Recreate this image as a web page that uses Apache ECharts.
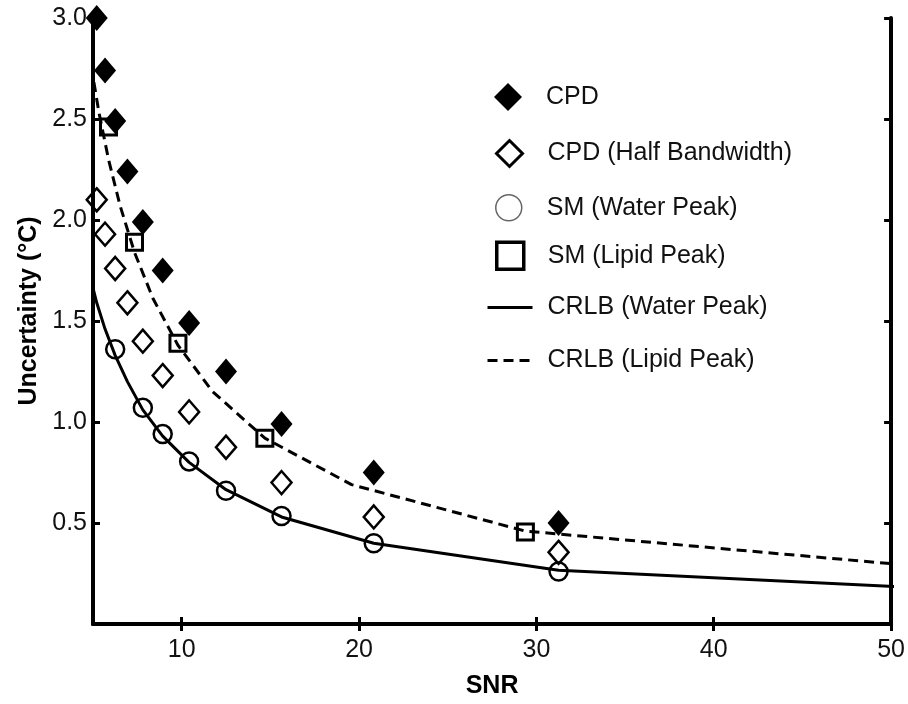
<!DOCTYPE html>
<html><head><meta charset="utf-8">
<script src="https://cdn.jsdelivr.net/npm/echarts@6/dist/echarts.min.js"></script>
<style>html,body{margin:0;padding:0;background:#fff}#c{width:908px;height:704px}</style>
</head><body><div id="c"></div>
<script>
// SNR positions and values
const snrCpd = [5.21, 5.68, 6.25, 6.94, 7.81, 8.93, 10.42, 12.5, 15.63, 20.83, 31.25];
const cpd = [3.0, 2.74, 2.49, 2.24, 1.99, 1.75, 1.49, 1.25, 0.99, 0.75, 0.50];
const cpdHalf = [2.1, 1.93, 1.76, 1.59, 1.40, 1.23, 1.05, 0.875, 0.70, 0.53, 0.355];
const smWaterSnr = [6.25, 7.81, 8.93, 10.42, 12.5, 15.63, 20.83, 31.25];
const smWater = [1.36, 1.07, 0.94, 0.805, 0.66, 0.535, 0.40, 0.26];
const smLipidSnr = [5.875, 7.34, 9.79, 14.69, 29.38];
const smLipid = [2.46, 1.89, 1.39, 0.92, 0.455];
const crlbWaterSnr = [4.81, 5.21, 5.68, 6.25, 6.94, 7.81, 8.93, 10.42, 12.5, 15.63, 20.83, 31.25, 62.5];
const crlbWater = [1.73, 1.59, 1.46, 1.33, 1.20, 1.06, 0.93, 0.80, 0.665, 0.53, 0.40, 0.266, 0.133];
const crlbLipidSnr = [4.90, 5.34, 5.875, 6.53, 7.34, 8.39, 9.79, 11.75, 14.69, 19.58, 29.38, 58.75];
const crlbLipid = [2.76, 2.53, 2.30, 2.07, 1.84, 1.61, 1.38, 1.15, 0.92, 0.69, 0.46, 0.23];
const xTicks = [10, 20, 30, 40, 50];
const yTicks = [0.5, 1.0, 1.5, 2.0, 2.5, 3.0];
const seriesNames = ['CPD', 'CPD (Half Bandwidth)', 'SM (Water Peak)', 'SM (Lipid Peak)', 'CRLB (Water Peak)', 'CRLB (Lipid Peak)'];

const FONT = '"Liberation Sans", Arial, sans-serif';
const pairs = (xs, ys) => xs.map((x, i) => [x, ys[i]]);
const axisLineStyle = { color: '#000', width: 4 };
const tickStyle = { color: '#000', width: 3 };

const chart = echarts.init(document.getElementById('c'), null, { renderer: 'canvas' });

const legendTops = [78, 133, 188, 235, 290, 343];
const legendItems = [
  { icon: 'diamond', itemStyle: { color: '#000', borderWidth: 0 } },
  { icon: 'diamond', itemStyle: { color: 'rgba(0,0,0,0)', borderColor: '#000', borderWidth: 3 } },
  { icon: 'circle', itemStyle: { color: 'rgba(0,0,0,0)', borderColor: '#666', borderWidth: 1.5 } },
  { icon: 'rect', itemStyle: { color: 'rgba(0,0,0,0)', borderColor: '#000', borderWidth: 3.5 } },
  { itemStyle: { color: 'rgba(0,0,0,0)', borderColor: 'rgba(0,0,0,0)', borderWidth: 0 }, lineStyle: { width: 3 } },
  { itemStyle: { color: 'rgba(0,0,0,0)', borderColor: 'rgba(0,0,0,0)', borderWidth: 0 }, lineStyle: { width: 3 } }
];
const legendSizes = [[28, 28], [26, 26], [26, 26], [27, 27], [45, 28], [45, 28]];
const legends = seriesNames.map((n, i) => {
  const w = legendSizes[i][0], h = legendSizes[i][1];
  const left = Math.round(503 - w / 2);
  return {
    data: [Object.assign({ name: n }, legendItems[i])],
    left: left, top: legendTops[i] + (28 - h) / 2,
    itemWidth: w, itemHeight: h,
    selectedMode: false,
    textStyle: { fontSize: 25, fontFamily: FONT, color: '#111', padding: [0, 0, 0, 547 - (left + w + 11)] }
  };
});

chart.setOption({
  backgroundColor: '#fff',
  animation: false,
  legend: legends,
  grid: { left: 93, right: 13, top: 18, bottom: 80, containLabel: false },
  xAxis: [{
    type: 'value', min: 5, max: 50, position: 'bottom',
    name: 'SNR', nameLocation: 'middle', nameGap: 50,
    nameTextStyle: { fontSize: 25, fontWeight: 'bold', fontFamily: FONT, color: '#000' },
    axisLine: { show: true, lineStyle: axisLineStyle },
    axisTick: { show: true, inside: true, length: 7, lineStyle: tickStyle, customValues: xTicks },
    axisLabel: { fontSize: 25, fontFamily: FONT, color: '#111', margin: 14, customValues: xTicks },
    splitLine: { show: false }
  }, {
    type: 'value', min: 5, max: 50, position: 'top',
    axisLine: { show: true, lineStyle: axisLineStyle },
    axisTick: { show: true, inside: true, length: 7, lineStyle: tickStyle, customValues: xTicks },
    axisLabel: { show: false },
    splitLine: { show: false }
  }],
  yAxis: [{
    type: 'value', min: 0, max: 3, interval: 0.5, position: 'left',
    name: 'Uncertainty (°C)', nameLocation: 'middle', nameGap: 50,
    nameTextStyle: { fontSize: 25, fontWeight: 'bold', fontFamily: FONT, color: '#000', padding: [0, 0, 0, 20] },
    axisLine: { show: true, lineStyle: axisLineStyle },
    axisTick: { show: true, inside: true, length: 7, lineStyle: tickStyle, customValues: yTicks },
    axisLabel: { fontSize: 25, fontFamily: FONT, color: '#111', margin: 6, customValues: yTicks,
      formatter: v => v.toFixed(1) },
    splitLine: { show: false }
  }, {
    type: 'value', min: 0, max: 3, interval: 0.5, position: 'right',
    axisLine: { show: true, lineStyle: axisLineStyle },
    axisTick: { show: true, inside: true, length: 7, lineStyle: tickStyle, customValues: yTicks },
    axisLabel: { show: false },
    splitLine: { show: false }
  }],
  series: [
    {
      name: seriesNames[0], type: 'scatter', symbol: 'diamond', symbolSize: [22, 26], clip: false, z: 5,
      itemStyle: { color: '#000', opacity: 1 }, data: pairs(snrCpd, cpd)
    },
    {
      name: seriesNames[1], type: 'scatter', symbol: 'diamond', symbolSize: [20, 23], clip: false, z: 5,
      itemStyle: { color: 'rgba(0,0,0,0)', borderColor: '#000', borderWidth: 2.5, opacity: 1 }, data: pairs(snrCpd, cpdHalf)
    },
    {
      name: seriesNames[2], type: 'scatter', symbol: 'circle', symbolSize: 18, clip: false, z: 5,
      itemStyle: { color: 'rgba(0,0,0,0)', borderColor: '#000', borderWidth: 2.5, opacity: 1 }, data: pairs(smWaterSnr, smWater)
    },
    {
      name: seriesNames[3], type: 'scatter', symbol: 'rect', symbolSize: 16, clip: false, z: 5,
      itemStyle: { color: 'rgba(0,0,0,0)', borderColor: '#000', borderWidth: 3, opacity: 1 }, data: pairs(smLipidSnr, smLipid)
    },
    {
      name: seriesNames[4], type: 'line', symbol: 'none', clip: true, z: 3,
      lineStyle: { color: '#000', width: 3, type: 'solid' }, itemStyle: { color: '#000' },
      data: pairs(crlbWaterSnr, crlbWater)
    },
    {
      name: seriesNames[5], type: 'line', symbol: 'none', clip: true, z: 3,
      lineStyle: { color: '#000', width: 3, type: [10, 6] }, itemStyle: { color: '#000' },
      data: pairs(crlbLipidSnr, crlbLipid)
    }
  ]
});
</script>
</body></html>
